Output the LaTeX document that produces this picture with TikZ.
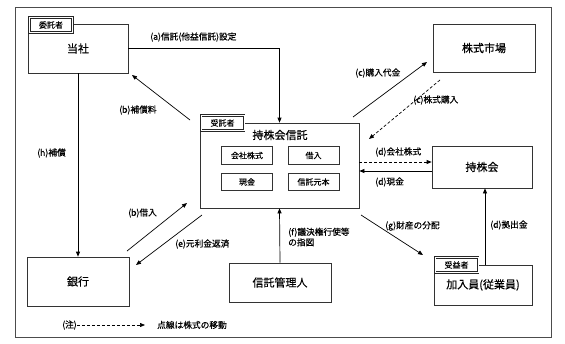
\documentclass[tikz,border=0pt]{standalone}
\usepackage{fontspec}
\setmainfont{Noto Sans CJK JP}[FakeBold=0.4]
\usetikzlibrary{arrows.meta,positioning}

\begin{document}
\begin{tikzpicture}[x=1pt,y=-1pt,
  box/.style={draw=black!80, line width=0.7pt, fill=white, inner sep=0pt, font=\fontsize{11}{13}\selectfont},
  inbox/.style={draw=black!80, line width=0.7pt, minimum width=51pt, minimum height=17.5pt, inner sep=0pt, font=\fontsize{8}{10}\selectfont},
  tag/.style={draw=black!85, double, double distance=1pt, line width=0.7pt, fill=white, minimum width=43pt, minimum height=15pt, inner sep=0pt, font=\fontsize{8}{10}\selectfont},
  lbl/.style={anchor=west, inner sep=0pt, font=\fontsize{8.7}{10.5}\selectfont},
  arr/.style={-{Triangle[length=5pt,width=4pt]}, line width=0.7pt},
  stock/.style={dash pattern=on 3pt off 2pt}]
\useasboundingbox (0,0) rectangle (565,343);
\draw[black!70, line width=0.8pt] (15,7) rectangle (551,337);

% boxes
\node[box, minimum width=100pt, minimum height=49pt] (tousha) at (78,48.5) {当社};
\node[box, minimum width=102pt, minimum height=48pt] (shijo) at (484,48) {株式市場};
\node[box, minimum width=159pt, minimum height=85pt] (shintaku) at (279.5,165.5) {};
\node[box, draw=none, fill=none] (shintakutitle) at (280,135) {持株会信託};
\node[box, minimum width=100pt, minimum height=42pt] (mochikabu) at (482,167) {持株会};
\node[box, minimum width=102pt, minimum height=49pt] (ginko) at (78,281.5) {銀行};
\node[box, minimum width=102pt, minimum height=39pt] (kanri) at (280,282.5) {信託管理人};
\node[box, minimum width=98pt, minimum height=40pt] (kanyu) at (483,285) {加入員(従業員)};

% inside the trust
\node[inbox] (kaisha) at (247,155.5) {会社株式};
\node[inbox] (kariire) at (313.5,155.5) {借入};
\node[inbox] (genkin) at (247,182) {現金};
\node[inbox] (ganpon) at (313.5,182) {信託元本};

% tags
\node[tag] (itakusha) at (51,25) {委託者};
\node[tag] (jutakusha) at (222.5,123) {受託者};
\node[tag] (juekisha) at (456.5,265) {受益者};

% free ends of the slanted arrows
\coordinate (hosho1) at (190,120);
\coordinate (hosho2) at (132,75);
\coordinate (kari1) at (127,251);
\coordinate (kari2) at (187,203);
\coordinate (hensai1) at (202,215);
\coordinate (hensai2) at (136,265);
\coordinate (daikin1) at (353,117);
\coordinate (daikin2) at (427,62);
\coordinate (kabu1) at (440,80);
\coordinate (kabu2) at (369,139);
\coordinate (bunpai1) at (361,215);
\coordinate (bunpai2) at (423,255);
\coordinate (dkabu) at ([yshift=5pt]mochikabu.west);
\coordinate (dgen) at ([yshift=-4pt]mochikabu.west);

% connectors
\draw[arr] (tousha.east) -| (shintaku.north);
\draw[arr] (tousha.south) -- (ginko.north);
\draw[arr] (hosho1) -- (hosho2);
\draw[arr] (kari1) -- (kari2);
\draw[arr] (hensai1) -- (hensai2);
\draw[arr] (daikin1) -- (daikin2);
\draw[arr,stock] (kabu1) -- (kabu2);
\draw[arr,stock] (shintaku.east |- dkabu) -- (dkabu);
\draw[arr] (dgen) -- (shintaku.east |- dgen);
\draw[arr] (kanri.north) -- (shintaku.south);
\draw[arr] (bunpai1) -- (bunpai2);
\draw[arr] ([xshift=2pt]kanyu.north) -- ([xshift=2pt]kanyu.north |- mochikabu.south);

% labels
\node[lbl] (la) at (150,37) {(a)信託(他益信託)設定};
\node[lbl] (lb1) at (119,110) {(b)補償料};
\node[lbl] (lh) at (37,153) {(h)補償};
\node[lbl] (lb2) at (128,213) {(b)借入};
\node[lbl] (le) at (175,244) {(e)元利金返済};
\node[lbl] (lc1) at (355,73) {(c)購入代金};
\node[lbl] (lc2) at (413,100) {(c)株式購入};
\node[lbl] (ld1) at (375,152) {(d)会社株式};
\node[lbl] (ld2) at (375,182) {(d)現金};
\node[lbl, align=left] (lf) at (288,237) {(f)議決権行使等\\の指図};
\node[lbl] (lg) at (385,226) {(g)財産の分配};
\node[lbl] (ld3) at (490,225) {(d)拠出金};

% note
\node[lbl] (chu) at (62,325) {(注)};
\node[lbl] (chutxt) at (157,325) {点線は株式の移動};
\draw[arr,stock] (chu.east) -- ([xshift=-12pt]chutxt.west);
\end{tikzpicture}
\end{document}
